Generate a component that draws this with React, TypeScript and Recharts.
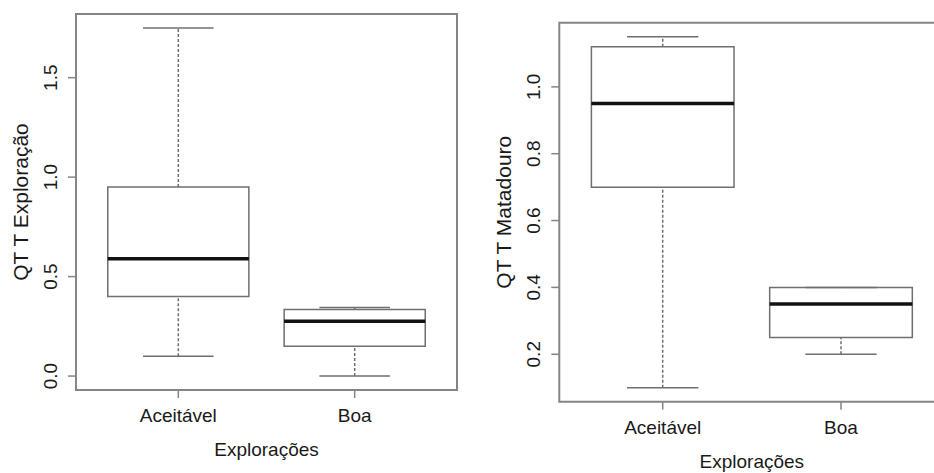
import React from "react";
import { ComposedChart, XAxis, YAxis, ReferenceArea, ReferenceLine, Scatter } from "recharts";

// ---- data ----
const categories = ["Aceitável", "Boa"];

// Left panel: QT T Exploração
const exploracaoLow = [0.1, 0.0];
const exploracaoQ1 = [0.4, 0.15];
const exploracaoMedian = [0.59, 0.275];
const exploracaoQ3 = [0.95, 0.335];
const exploracaoHigh = [1.75, 0.345];
const exploracaoTicks = [0, 0.5, 1, 1.5];

// Right panel: QT T Matadouro
const matadouroLow = [0.1, 0.2];
const matadouroQ1 = [0.7, 0.25];
const matadouroMedian = [0.95, 0.35];
const matadouroQ3 = [1.12, 0.4];
const matadouroHigh = [1.15, 0.4];
const matadouroTicks = [0.2, 0.4, 0.6, 0.8, 1.0];

const FONT = '"Liberation Sans", Arial, Helvetica, sans-serif';
const FRAME = "#858585";
const BOX = "#6f6f6f";
const TEXT = "#1a1a1a";
const X_DOMAIN: [number, number] = [0.42, 2.58];

function rDomain(lo: number[], hi: number[]): [number, number] {
  const mn = Math.min(...lo);
  const mx = Math.max(...hi);
  const pad = (mx - mn) * 0.04;
  return [mn - pad, mx + pad];
}

const YTick = (props: any) => {
  const { x, y, payload } = props;
  return (
    <text
      x={x}
      y={y}
      transform={`rotate(-90, ${x}, ${y})`}
      textAnchor="middle"
      fontSize={19}
      fontFamily={FONT}
      fill={TEXT}
    >
      {Number(payload.value).toFixed(1)}
    </text>
  );
};

const XTick = (props: any) => {
  const { x, y, payload } = props;
  return (
    <text x={x} y={y} textAnchor="middle" fontSize={19} fontFamily={FONT} fill={TEXT}>
      {categories[Math.round(payload.value) - 1]}
    </text>
  );
};

function boxElements(
  prefix: string,
  i: number,
  lo: number,
  q1: number,
  med: number,
  q3: number,
  hi: number
) {
  const x = i + 1;
  const half = 0.4;
  const cap = 0.2;
  return [
    <ReferenceLine
      key={`${prefix}-wu-${i}`}
      segment={[{ x, y: q3 }, { x, y: hi }]}
      stroke={BOX}
      strokeWidth={1.5}
      strokeDasharray="3 2"
      ifOverflow="visible"
    />,
    <ReferenceLine
      key={`${prefix}-wl-${i}`}
      segment={[{ x, y: lo }, { x, y: q1 }]}
      stroke={BOX}
      strokeWidth={1.5}
      strokeDasharray="3 2"
      ifOverflow="visible"
    />,
    <ReferenceLine
      key={`${prefix}-cu-${i}`}
      segment={[{ x: x - cap, y: hi }, { x: x + cap, y: hi }]}
      stroke={BOX}
      strokeWidth={1.5}
      ifOverflow="visible"
    />,
    <ReferenceLine
      key={`${prefix}-cl-${i}`}
      segment={[{ x: x - cap, y: lo }, { x: x + cap, y: lo }]}
      stroke={BOX}
      strokeWidth={1.5}
      ifOverflow="visible"
    />,
    <ReferenceArea
      key={`${prefix}-box-${i}`}
      x1={x - half}
      x2={x + half}
      y1={q1}
      y2={q3}
      fill="#ffffff"
      fillOpacity={1}
      stroke={BOX}
      strokeWidth={1.5}
      ifOverflow="visible"
    />,
    <ReferenceLine
      key={`${prefix}-med-${i}`}
      segment={[{ x: x - half, y: med }, { x: x + half, y: med }]}
      stroke="#111"
      strokeWidth={3.5}
      ifOverflow="visible"
    />,
  ];
}

type PanelProps = {
  prefix: string;
  width: number;
  margin: { top: number; right: number; bottom: number; left: number };
  low: number[];
  q1: number[];
  median: number[];
  q3: number[];
  high: number[];
  ticks: number[];
  yTitle: string;
};

function Panel(p: PanelProps) {
  const yDomain = rDomain(p.low, p.high);
  const points = categories.map((c, i) => ({ x: i + 1, y: p.median[i], name: c }));
  const boxes = categories.flatMap((_, i) =>
    boxElements(p.prefix, i, p.low[i], p.q1[i], p.median[i], p.q3[i], p.high[i])
  );
  return (
    <ComposedChart width={p.width} height={473} margin={p.margin} data={points}>
      <XAxis
        type="number"
        dataKey="x"
        domain={X_DOMAIN}
        ticks={[1, 2]}
        allowDataOverflow
        axisLine={false}
        tickLine={{ stroke: FRAME, strokeWidth: 1.5 }}
        tickSize={8}
        tickMargin={24}
        height={60}
        tick={<XTick />}
        interval={0}
        label={(lp: any) => {
          const vb = lp.viewBox || {};
          return (
            <text
              x={vb.x + vb.width / 2}
              y={vb.y + 66}
              textAnchor="middle"
              fontSize={19}
              fontFamily={FONT}
              fill={TEXT}
            >
              Explorações
            </text>
          );
        }}
      />
      <YAxis
        type="number"
        dataKey="y"
        domain={yDomain}
        ticks={p.ticks}
        allowDataOverflow
        axisLine={false}
        tickLine={{ stroke: FRAME, strokeWidth: 1.5 }}
        tickSize={8}
        tickMargin={11}
        width={60}
        tick={<YTick />}
        interval={0}
        label={(lp: any) => {
          const vb = lp.viewBox || {};
          const bx = vb.x + vb.width - 48;
          const cy = vb.y + vb.height / 2;
          return (
            <text
              x={bx}
              y={cy}
              transform={`rotate(-90, ${bx}, ${cy})`}
              textAnchor="middle"
              fontSize={21}
              fontFamily={FONT}
              fill={TEXT}
            >
              {p.yTitle}
            </text>
          );
        }}
      />
      <ReferenceArea
        x1={X_DOMAIN[0]}
        x2={X_DOMAIN[1]}
        y1={yDomain[0]}
        y2={yDomain[1]}
        fill="none"
        fillOpacity={0}
        stroke={FRAME}
        strokeWidth={2}
        ifOverflow="visible"
      />
      {boxes}
      <Scatter dataKey="y" isAnimationActive={false} shape={() => <g />} />
    </ComposedChart>
  );
}

export default function App() {
  return (
    <div
      style={{
        position: "fixed",
        left: 0,
        top: 0,
        width: 934,
        height: 473,
        overflow: "hidden",
        background: "#fff",
      }}
    >
      <div style={{ position: "absolute", left: 0, top: 0 }}>
        <Panel
          prefix="exp"
          width={470}
          margin={{ top: 14, right: 13, bottom: 23, left: 16 }}
          low={exploracaoLow}
          q1={exploracaoQ1}
          median={exploracaoMedian}
          q3={exploracaoQ3}
          high={exploracaoHigh}
          ticks={exploracaoTicks}
          yTitle="QT T Exploração"
        />
      </div>
      <div style={{ position: "absolute", left: 470, top: 0 }}>
        <Panel
          prefix="mat"
          width={480}
          margin={{ top: 22.7, right: 5.6, bottom: 11.3, left: 29.3 }}
          low={matadouroLow}
          q1={matadouroQ1}
          median={matadouroMedian}
          q3={matadouroQ3}
          high={matadouroHigh}
          ticks={matadouroTicks}
          yTitle="QT T Matadouro"
        />
      </div>
    </div>
  );
}
